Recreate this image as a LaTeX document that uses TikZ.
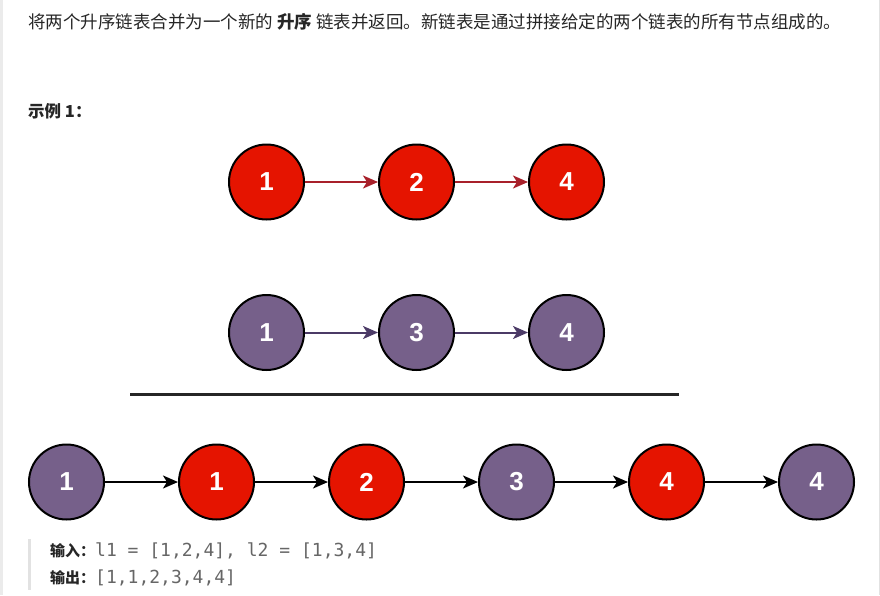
\documentclass[tikz,border=0pt]{standalone}
\usepackage{fontspec}
\usetikzlibrary{arrows.meta}
\setmainfont{Liberation Sans}
\newfontfamily\cjk{Noto Sans CJK SC}
\newfontfamily\codefont{DejaVu Sans Mono}
\definecolor{nodered}{HTML}{E51400}
\definecolor{nodepurple}{HTML}{76608A}
\definecolor{linkred}{HTML}{A8202A}
\definecolor{linkpurple}{HTML}{4B3A66}
\definecolor{textgray}{HTML}{262626}
\definecolor{codegray}{HTML}{666666}
\definecolor{bargray}{HTML}{E2E2E2}

\begin{document}
\begin{tikzpicture}[x=1pt,y=-1pt,
    listnode/.style={circle, draw=black, line width=2pt, minimum size=75pt, inner sep=0pt,
        text=white, font=\fontsize{26}{26}\selectfont\bfseries},
    rednode/.style={listnode, fill=nodered},
    purplenode/.style={listnode, fill=nodepurple},
    link/.style={-{Stealth[length=15pt,width=13pt,inset=4pt]}, line width=2pt},
    txt/.style={anchor=west, inner sep=0pt, text=textgray}]
    % Page
    \useasboundingbox (0,0) rectangle (880,595);
    \fill[white] (0,0) rectangle (880,595);
    \fill[bargray!70] (0,0) rectangle (3,595);
    \draw[bargray, line width=0.8pt] (879.5,0) -- (879.5,595);

    % Text
    \node[txt, font=\cjk\fontsize{17.5}{20}\selectfont] (title) at (28,22)
        {将两个升序链表合并为一个新的 \textbf{升序} 链表并返回。新链表是通过拼接给定的两个链表的所有节点组成的。};
    \node[txt, font=\cjk\bfseries\fontsize{16.5}{18}\selectfont] (example) at (28,111) {示例 1：};

    % List 1
    \node[rednode] (a1) at (266.5,182) {1};
    \node[rednode] (a2) at (416.5,182) {2};
    \node[rednode] (a3) at (566.5,182) {4};
    \draw[link, linkred] (a1) -- (a2);
    \draw[link, linkred] (a2) -- (a3);

    % List 2
    \node[purplenode] (b1) at (266.5,332.5) {1};
    \node[purplenode] (b2) at (416.5,332.5) {3};
    \node[purplenode] (b3) at (566.5,332.5) {4};
    \draw[link, linkpurple] (b1) -- (b2);
    \draw[link, linkpurple] (b2) -- (b3);

    % Rule
    \coordinate (ruleL) at (130,394.5);
    \coordinate (ruleR) at (679,394.5);
    \draw[line width=2.5pt, black!85] (ruleL) -- (ruleR);

    % Merged list
    \node[purplenode] (m1) at (66.5,482) {1};
    \node[rednode]    (m2) at (216.5,482) {1};
    \node[rednode]    (m3) at (366.5,482) {2};
    \node[purplenode] (m4) at (516.5,482) {3};
    \node[rednode]    (m5) at (666.5,482) {4};
    \node[purplenode] (m6) at (816.5,482) {4};
    \foreach \i [evaluate=\i as \j using int(\i+1)] in {1,...,5}
        \draw[link, black] (m\i) -- (m\j);

    % Input / output
    \coordinate (barT) at (29.5,539);
    \coordinate (barB) at (29.5,590);
    \draw[bargray, line width=2.5pt] (barT) -- (barB);
    \node[txt, font=\fontsize{15}{18}\selectfont] (input) at (50,550.5)
        {{\cjk\bfseries 输入：}{\codefont\fontsize{18}{18}\selectfont\color{codegray}l1 = [1,2,4], l2 = [1,3,4]}};
    \node[txt, font=\fontsize{15}{18}\selectfont] (output) at (50,577.5)
        {{\cjk\bfseries 输出：}{\codefont\fontsize{18}{18}\selectfont\color{codegray}[1,1,2,3,4,4]}};
\end{tikzpicture}
\end{document}
